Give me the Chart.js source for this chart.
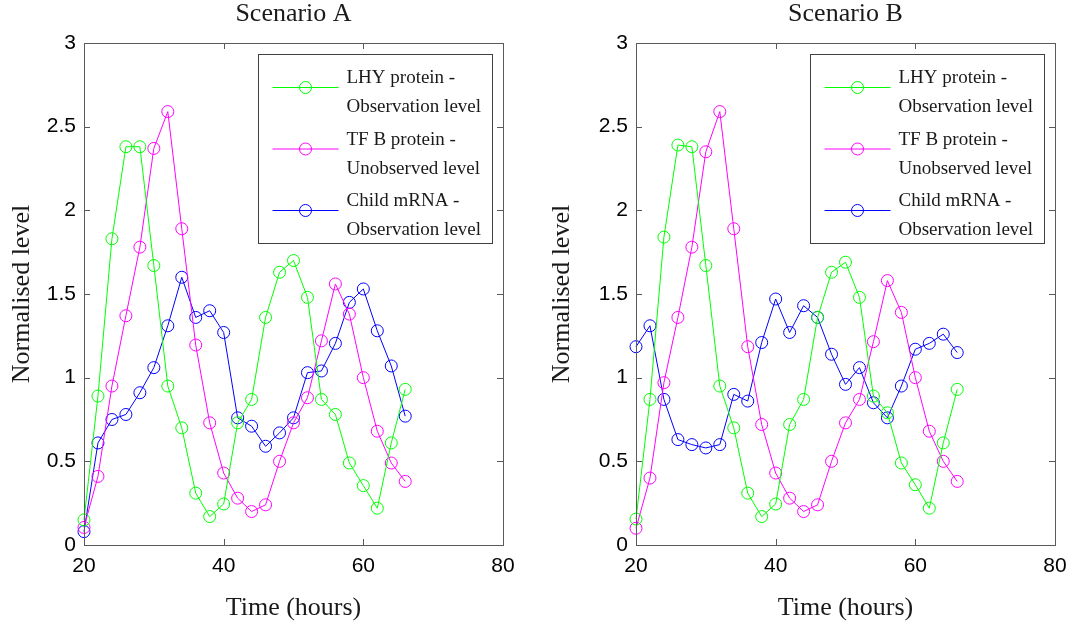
<!DOCTYPE html>
<html lang="en">
  <head>
    <meta charset="UTF-8" />
    <title>Scenario A / Scenario B</title>
    <script src="https://cdn.jsdelivr.net/npm/chart.js"></script>
    <style>
      body {
        margin: 0;
        background: #ffffff;
      }
      .panel {
        position: absolute;
        top: 0;
        width: 540px;
        height: 630px;
      }
      #panelA {
        left: 0;
      }
      #panelB {
        left: 540px;
      }
    </style>
  </head>
  <body>
    <div class="panel" id="panelA"><canvas id="chartA" width="540" height="630"></canvas></div>
    <div class="panel" id="panelB"><canvas id="chartB" width="540" height="630"></canvas></div>

    <script>
      // time points (hours)
      const hours = [20, 22, 24, 26, 28, 30, 32, 34, 36, 38, 40, 42, 44, 46, 48, 50, 52, 54, 56, 58, 60, 62, 64, 66];

      // Scenario A
      const lhyA = [0.15, 0.89, 1.83, 2.38, 2.38, 1.67, 0.95, 0.7, 0.31, 0.17, 0.245, 0.73, 0.87, 1.36, 1.63, 1.7, 1.48, 0.87, 0.78, 0.49, 0.355, 0.22, 0.61, 0.93];
      const tfbA = [0.105, 0.41, 0.95, 1.37, 1.78, 2.37, 2.59, 1.89, 1.195, 0.73, 0.43, 0.28, 0.2, 0.24, 0.5, 0.73, 0.88, 1.22, 1.56, 1.38, 1.0, 0.68, 0.49, 0.38];
      const childA = [0.08, 0.61, 0.75, 0.78, 0.91, 1.06, 1.31, 1.6, 1.36, 1.4, 1.27, 0.76, 0.71, 0.59, 0.67, 0.76, 1.03, 1.04, 1.205, 1.45, 1.53, 1.28, 1.07, 0.77];

      // Scenario B
      const lhyB = [0.155, 0.87, 1.84, 2.39, 2.38, 1.67, 0.95, 0.7, 0.31, 0.17, 0.245, 0.72, 0.87, 1.36, 1.63, 1.69, 1.48, 0.89, 0.79, 0.49, 0.36, 0.22, 0.61, 0.93];
      const tfbB = [0.1, 0.4, 0.97, 1.36, 1.78, 2.35, 2.59, 1.89, 1.185, 0.72, 0.43, 0.28, 0.2, 0.24, 0.5, 0.73, 0.87, 1.215, 1.58, 1.39, 1.0, 0.68, 0.5, 0.38];
      const childB = [1.185, 1.31, 0.87, 0.63, 0.6, 0.58, 0.6, 0.9, 0.86, 1.21, 1.47, 1.27, 1.43, 1.36, 1.14, 0.96, 1.06, 0.85, 0.76, 0.95, 1.17, 1.205, 1.26, 1.15];

      // axis ticks
      const xTicks = [20, 40, 60, 80];
      const yTicks = [0, 0.5, 1, 1.5, 2, 2.5, 3];

      const legendLines = [
        ["LHY protein -", "Observation level"],
        ["TF B protein -", "Unobserved level"],
        ["Child mRNA -", "Observation level"],
      ];
      const seriesColors = ["#00ff00", "#ff00ff", "#0000ff"];

      const serif = "'Liberation Serif', 'Times New Roman', serif";
      const sans = "'Liberation Sans', Arial, sans-serif";
      const frameColor = "#5a5a5a";

      function toPoints(values) {
        return values.map((v, i) => ({ x: hours[i], y: v }));
      }

      function makeDataset(values, color) {
        return {
          data: toPoints(values),
          borderColor: color,
          borderWidth: 1,
          pointStyle: "circle",
          pointRadius: 6,
          pointHoverRadius: 6,
          pointBorderColor: color,
          pointBorderWidth: 1,
          pointBackgroundColor: "rgba(0,0,0,0)",
          tension: 0,
          fill: false,
          clip: false,
        };
      }

      // box around the plot with inward tick marks, plus the boxed legend
      const matlabFrame = {
        id: "matlabFrame",
        afterDatasetsDraw(chart) {
          const { ctx, chartArea: a, scales } = chart;
          const len = 6;
          ctx.save();
          ctx.strokeStyle = frameColor;
          ctx.lineWidth = 1;
          ctx.beginPath();
          xTicks.forEach((t) => {
            const px = Math.round(scales.x.getPixelForValue(t)) + 0.5;
            ctx.moveTo(px, a.bottom);
            ctx.lineTo(px, a.bottom - len);
            ctx.moveTo(px, a.top);
            ctx.lineTo(px, a.top + len);
          });
          yTicks.forEach((t) => {
            const py = Math.round(scales.y.getPixelForValue(t)) + 0.5;
            ctx.moveTo(a.left, py);
            ctx.lineTo(a.left + len, py);
            ctx.moveTo(a.right, py);
            ctx.lineTo(a.right - len, py);
          });
          ctx.stroke();
          ctx.strokeRect(Math.round(a.left) + 0.5, Math.round(a.top) + 0.5, Math.round(a.right - a.left), Math.round(a.bottom - a.top));
          ctx.restore();
        },
        afterDraw(chart) {
          const { ctx, chartArea: a } = chart;
          const w = 234;
          const h = 189;
          const left = Math.round(a.right - 11 - w) + 0.5;
          const top = Math.round(a.top + 11) + 0.5;
          ctx.save();
          ctx.fillStyle = "#ffffff";
          ctx.fillRect(left, top, w, h);
          ctx.strokeStyle = "#404040";
          ctx.lineWidth = 1;
          ctx.strokeRect(left, top, w, h);
          ctx.font = "19px " + serif;
          ctx.textBaseline = "middle";
          ctx.textAlign = "left";
          chart.data.datasets.forEach((ds, i) => {
            const rowTop = top + i * 61.5;
            const sy = rowTop + 33;
            ctx.strokeStyle = ds.borderColor;
            ctx.beginPath();
            ctx.moveTo(left + 14, sy);
            ctx.lineTo(left + 80, sy);
            ctx.stroke();
            ctx.beginPath();
            ctx.arc(left + 47, sy, 6, 0, Math.PI * 2);
            ctx.stroke();
            ctx.fillStyle = "#1a1a1a";
            ctx.fillText(legendLines[i][0], left + 88, rowTop + 24);
            ctx.fillText(legendLines[i][1], left + 88, rowTop + 53);
          });
          ctx.restore();
        },
      };

      function createChart(id, title, series, rightPad, yWidth) {
        return new Chart(document.getElementById(id), {
          type: "line",
          data: {
            datasets: series.map((s, i) => makeDataset(s, seriesColors[i])),
          },
          options: {
            responsive: false,
            animation: false,
            events: [],
            layout: { padding: { left: 0, right: rightPad, top: 0, bottom: 0 } },
            plugins: {
              legend: { display: false },
              tooltip: { enabled: false },
              title: {
                display: true,
                text: title,
                fullSize: false,
                color: "#1a1a1a",
                font: { family: serif, size: 26, weight: "normal", lineHeight: 1 },
                padding: { top: 1, bottom: 16 },
              },
            },
            scales: {
              x: {
                type: "linear",
                min: 20,
                max: 80,
                grid: { display: false, drawTicks: false },
                border: { display: false },
                ticks: {
                  stepSize: 20,
                  autoSkip: false,
                  maxRotation: 0,
                  padding: 9,
                  color: "#000000",
                  font: { family: sans, size: 21 },
                },
                title: {
                  display: true,
                  text: "Time (hours)",
                  color: "#1a1a1a",
                  font: { family: serif, size: 26, lineHeight: 1 },
                  padding: { top: 0, bottom: 9 },
                },
                afterFit(scale) {
                  scale.height = 85;
                },
              },
              y: {
                type: "linear",
                min: 0,
                max: 3,
                grid: { display: false, drawTicks: false },
                border: { display: false },
                ticks: {
                  stepSize: 0.5,
                  padding: 8,
                  color: "#000000",
                  font: { family: sans, size: 21 },
                  callback: (v) => String(v),
                },
                title: {
                  display: true,
                  text: "Normalised level",
                  color: "#1a1a1a",
                  font: { family: serif, size: 26, lineHeight: 1 },
                  padding: { top: 9, bottom: 0 },
                },
                afterFit(scale) {
                  scale.width = yWidth;
                },
              },
            },
          },
          plugins: [matlabFrame],
        });
      }

      createChart("chartA", "Scenario A", [lhyA, tfbA, childA], 37, 84);
      createChart("chartB", "Scenario B", [lhyB, tfbB, childB], 25, 96);
    </script>
  </body>
</html>
